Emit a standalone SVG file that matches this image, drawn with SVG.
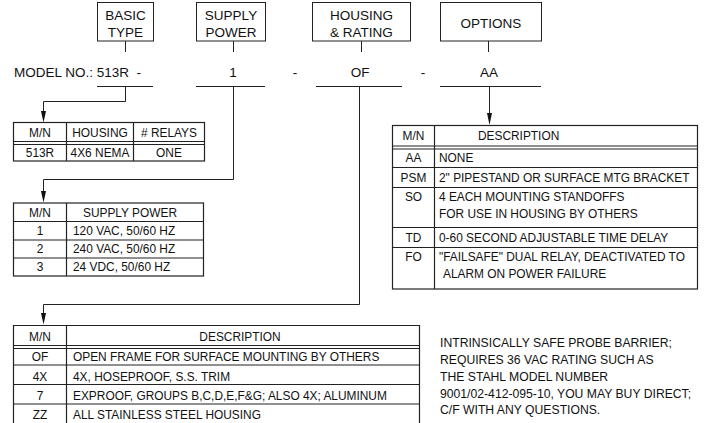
<svg xmlns="http://www.w3.org/2000/svg" width="709" height="423" viewBox="0 0 709 423">
<style>
text{font-family:"Liberation Sans",Arial,sans-serif;fill:#111}
.h{font-size:13.5px}
.t{font-size:11.9px}
.n{font-size:12.2px}
.m{text-anchor:middle}
.ln{stroke:#222;stroke-width:1;fill:none}
.tb{stroke:#222;stroke-width:1.2;fill:none}
.ah{fill:#111;stroke:none}
</style>
<rect width="709" height="423" fill="#fff"/>

<g id="box-basic-type">
<rect class="ln" x="97.5" y="2.5" width="56" height="38.5"/>
<text class="h m" x="125.5" y="19.5">BASIC</text>
<text class="h m" x="125.5" y="36.5">TYPE</text>
</g>
<g id="box-supply-power">
<rect class="ln" x="196.5" y="2.5" width="69" height="38.5"/>
<text class="h m" x="231" y="19.5">SUPPLY</text>
<text class="h m" x="231" y="36.5">POWER</text>
</g>
<g id="box-housing-rating">
<rect class="ln" x="312.5" y="2.5" width="98" height="38.5"/>
<text class="h m" x="361.5" y="19.5">HOUSING</text>
<text class="h m" x="361.5" y="36.5">&amp; RATING</text>
</g>
<g id="box-options">
<rect class="ln" x="440.5" y="2.5" width="101" height="38.5"/>
<text class="h m" x="491" y="28">OPTIONS</text>
</g>

<g id="model-line">
<text class="h" x="14" y="77" xml:space="preserve">MODEL NO.: 513R  -</text>
<text class="h m" x="233" y="77">1</text>
<text class="h m" x="295" y="77">-</text>
<text class="h m" x="360" y="77">OF</text>
<text class="h m" x="423" y="77">-</text>
<text class="h m" x="489" y="77">AA</text>
<path class="ln" d="M97 86.5H153M196 86.5H265M316 86.5H402M440 86.5H541"/>
</g>

<g id="connectors">
<path class="ln" d="M125.5 41V52M233.5 41V52M361.5 41V52M488.5 41V52"/>
<path class="ln" d="M125.5 86.5V101.5H43.5V114"/>
<polygon class="ah" points="41,111 46,111 43.5,122.5"/>
<path class="ln" d="M233.5 86.5V179.5H43.5V194"/>
<polygon class="ah" points="41,191 46,191 43.5,202.5"/>
<path class="ln" d="M359.5 86.5V304.5H43.5V316"/>
<polygon class="ah" points="41,313 46,313 43.5,324.5"/>
<path class="ln" d="M489.5 86.5V116"/>
<polygon class="ah" points="487,113 492,113 489.5,125"/>
</g>

<g id="table-basic-type">
<rect class="tb" x="13.5" y="122.5" width="191" height="38.5"/>
<path class="tb" d="M13.5 141.5H204.5M13.5 144.5H204.5M66.5 122.5V161M133.5 122.5V161"/>
<text class="t m" x="40" y="137">M/N</text>
<text class="t m" x="100" y="137">HOUSING</text>
<text class="t m" x="169" y="137"># RELAYS</text>
<text class="t m" x="40" y="157">513R</text>
<text class="t m" x="100" y="157">4X6 NEMA</text>
<text class="t m" x="169" y="157">ONE</text>
</g>

<g id="table-supply-power">
<rect class="tb" x="13.5" y="203" width="190" height="73"/>
<path class="tb" d="M13.5 221.5H203.5M13.5 240H203.5M13.5 258H203.5M66.5 203V276"/>
<text class="t m" x="40" y="216.5">M/N</text>
<text class="t m" x="130" y="216.5">SUPPLY POWER</text>
<text class="t m" x="40" y="235">1</text>
<text class="t" x="73" y="235">120 VAC, 50/60 HZ</text>
<text class="t m" x="40" y="253">2</text>
<text class="t" x="73" y="253">240 VAC, 50/60 HZ</text>
<text class="t m" x="40" y="271">3</text>
<text class="t" x="73" y="271">24 VDC, 50/60 HZ</text>
</g>

<g id="table-options">
<rect class="tb" x="392.5" y="125.5" width="305" height="163.5"/>
<path class="tb" d="M392.5 146H697.5M392.5 149H697.5M392.5 167.5H697.5M392.5 187.5H697.5M392.5 227.5H697.5M392.5 247.5H697.5M434.5 125.5V289"/>
<text class="t m" x="413.5" y="140">M/N</text>
<text class="t" x="478" y="140">DESCRIPTION</text>
<text class="t m" x="413.5" y="162">AA</text>
<text class="t" x="439" y="162">NONE</text>
<text class="t m" x="413.5" y="182">PSM</text>
<text class="t" x="439" y="182">2" PIPESTAND OR SURFACE MTG BRACKET</text>
<text class="t m" x="413.5" y="201">SO</text>
<text class="t" x="439" y="201">4 EACH MOUNTING STANDOFFS</text>
<text class="t" x="439" y="218">FOR USE IN HOUSING BY OTHERS</text>
<text class="t m" x="413.5" y="241.5">TD</text>
<text class="t" x="439" y="241.5">0-60 SECOND ADJUSTABLE TIME DELAY</text>
<text class="t m" x="413.5" y="260.5">FO</text>
<text class="t" x="439" y="260.5">"FAILSAFE" DUAL RELAY, DEACTIVATED TO</text>
<text class="t" x="443" y="277.5">ALARM ON POWER FAILURE</text>
</g>

<g id="table-housing">
<path class="tb" d="M13.5 430V325.5H419.5V430M13.5 345.5H419.5M13.5 348.5H419.5M13.5 365H419.5M13.5 384.5H419.5M13.5 404H419.5M66.5 325.5V430"/>
<text class="t m" x="40" y="341">M/N</text>
<text class="t m" x="240" y="341">DESCRIPTION</text>
<text class="t m" x="40" y="361">OF</text>
<text class="t" x="73" y="361">OPEN FRAME FOR SURFACE MOUNTING BY OTHERS</text>
<text class="t m" x="40" y="380.5">4X</text>
<text class="t" x="73" y="380.5">4X, HOSEPROOF, S.S. TRIM</text>
<text class="t m" x="40" y="400">7</text>
<text class="t" x="73" y="400">EXPROOF, GROUPS B,C,D,E,F&amp;G; ALSO 4X; ALUMINUM</text>
<text class="t m" x="40" y="419">ZZ</text>
<text class="t" x="73" y="419">ALL STAINLESS STEEL HOUSING</text>
</g>

<g id="note">
<text class="n" x="440" y="347">INTRINSICALLY SAFE PROBE BARRIER;</text>
<text class="n" x="440" y="364">REQUIRES 36 VAC RATING SUCH AS</text>
<text class="n" x="440" y="381">THE STAHL MODEL NUMBER</text>
<text class="n" x="440" y="397.5">9001/02-412-095-10, YOU MAY BUY DIRECT;</text>
<text class="n" x="440" y="413.5">C/F WITH ANY QUESTIONS.</text>
</g>
</svg>
